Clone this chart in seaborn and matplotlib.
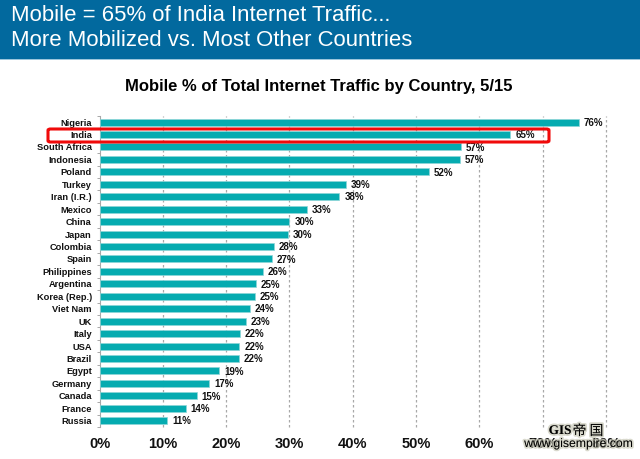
import matplotlib
matplotlib.use("Agg")
import matplotlib.pyplot as plt
import matplotlib.patheffects as pe
from matplotlib.patches import Rectangle, FancyBboxPatch
import seaborn as sns
import pandas as pd

# --- Data ---
COUNTRIES = ["Nigeria", "India", "South Africa", "Indonesia", "Poland", "Turkey",
             "Iran (I.R.)", "Mexico", "China", "Japan", "Colombia", "Spain",
             "Philippines", "Argentina", "Korea (Rep.)", "Viet Nam", "UK", "Italy",
             "USA", "Brazil", "Egypt", "Germany", "Canada", "France", "Russia"]
MOBILE_PCT = [75.7, 64.9, 57.1, 56.9, 52.0, 38.9, 37.9, 32.8, 30.0, 29.7, 27.6, 27.2,
              25.8, 24.7, 24.6, 23.8, 23.1, 22.2, 22.1, 22.0, 18.9, 17.3, 15.4, 13.6, 10.7]
BAR_LABELS = [76, 65, 57, 57, 52, 39, 38, 33, 30, 30, 28, 27,
              26, 25, 25, 24, 23, 22, 22, 22, 19, 17, 15, 14, 11]
X_TICKS = [0, 10, 20, 30, 40, 50, 60, 70, 80]

# --- Config ---
W, H = 640, 459
COLOR_HEADER = "#02699E"
COLOR_BAR = "#05ABB0"
COLOR_GRID = "#A8A8A8"
COLOR_TEXT = "#111111"

sns.set_theme(style="white")
plt.rcParams['font.family'] = ['Liberation Sans', 'Noto Sans CJK SC', 'DejaVu Sans']


def fx(px):
    return px / W


def fy(py):
    return 1 - py / H


df = pd.DataFrame({"country": COUNTRIES, "pct": MOBILE_PCT})

fig = plt.figure(figsize=(W / 100, H / 100), dpi=100, facecolor="white")

# header band
fig.add_artist(Rectangle((0, fy(59)), 1, 59 / H, transform=fig.transFigure,
                         facecolor=COLOR_HEADER, edgecolor="none"))
fig.add_artist(Rectangle((0, fy(60)), 1, 1.2 / H, transform=fig.transFigure,
                         facecolor="#9CC6DC", edgecolor="none"))
fig.text(fx(11), fy(15.5), "Mobile = 65% of India Internet Traffic...", color="white",
         fontsize=15.9, va="center", ha="left")
fig.text(fx(11), fy(41), "More Mobilized vs. Most Other Countries", color="white",
         fontsize=15.9, va="center", ha="left")
fig.text(fx(318.5), fy(87), "Mobile % of Total Internet Traffic by Country, 5/15",
         color="#000000", fontsize=12, fontweight="bold", va="center", ha="center")

ax = fig.add_axes([fx(99.5), fy(427), (606 - 99.5) / W, (427 - 115.8) / H])
sns.barplot(data=df, y="country", x="pct", ax=ax, color=COLOR_BAR, saturation=1,
            width=0.56, edgecolor="#8ED6D8", linewidth=0.5, zorder=3)

ax.set_xlim(0, 80)
ax.set_xlabel("")
ax.set_ylabel("")
ax.set_xticks(X_TICKS)
ax.set_xticklabels([f"{t}%" for t in X_TICKS], fontsize=10.5, fontweight="bold", color=COLOR_TEXT)
ax.tick_params(axis="x", length=0, pad=7.5)

# tick marks sit between the rows
ax.set_yticks(range(len(COUNTRIES)))
ax.set_yticklabels(COUNTRIES, fontsize=6.7, fontweight="bold", color=COLOR_TEXT)
ax.tick_params(axis="y", length=0, pad=5.5)
ax.set_yticks([i - 0.5 for i in range(len(COUNTRIES) + 1)], minor=True)
ax.tick_params(axis="y", which="minor", left=True, length=2, width=0.7, color=COLOR_GRID)

for t in X_TICKS[1:]:
    ax.axvline(t, color=COLOR_GRID, linewidth=0.9, linestyle=(0, (2, 2)), zorder=1, clip_on=False)

for s in ["top", "right", "bottom"]:
    ax.spines[s].set_visible(False)
ax.spines["left"].set_color(COLOR_GRID)
ax.spines["left"].set_linewidth(0.8)

for i, (v, lab) in enumerate(zip(MOBILE_PCT, BAR_LABELS)):
    ax.annotate(f"{lab}%", (v, i), xytext=(3.5, -0.5), textcoords="offset points",
                fontsize=7, fontweight="bold", color=COLOR_TEXT, va="center", ha="left", zorder=4)

# red highlight around India
fig.add_artist(FancyBboxPatch((fx(48), fy(142)), (549 - 48) / W, (142 - 129) / H,
                              boxstyle="round,pad=0,rounding_size=0.004",
                              transform=fig.transFigure, mutation_aspect=H / W,
                              facecolor="none", edgecolor="#F00A0A", linewidth=2.2, zorder=5))

# watermark
shadow = [pe.withStroke(linewidth=2.5, foreground="#C9C9B8", alpha=0.7)]
fig.text(fx(560), fy(431), "GIS", fontsize=9.5, fontweight="bold", family="Liberation Serif",
         color="black", va="center", ha="center", path_effects=shadow, zorder=6)
fig.text(fx(588), fy(431), "帝 国", fontsize=10, family=["Noto Sans CJK SC", "DejaVu Sans"],
         color="black", va="center", ha="center", path_effects=shadow, zorder=6)
fig.text(fx(579), fy(444), "www.gisempire.com", fontsize=8.8, color="black",
         va="center", ha="center", path_effects=shadow, zorder=6)

fig.savefig("out.png", dpi=100)
plt.close(fig)
